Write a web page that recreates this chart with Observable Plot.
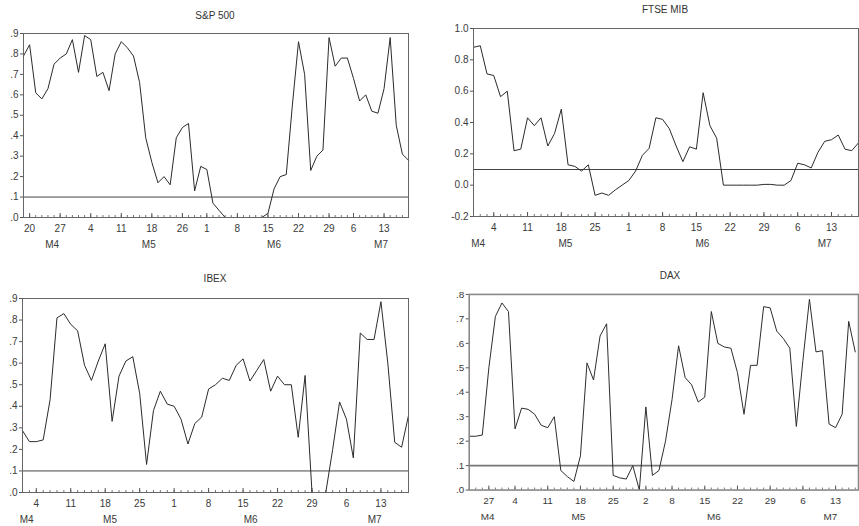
<!DOCTYPE html>
<html>
<head>
<meta charset="utf-8">
<script src="https://cdn.jsdelivr.net/npm/d3@7"></script>
<script src="https://cdn.jsdelivr.net/npm/@observablehq/plot@0.6"></script>
<style>
html, body { margin: 0; padding: 0; background: #fff; overflow: hidden; width: 859px; height: 526px; }
#root { position: relative; width: 859px; height: 526px; font-family: "Liberation Sans", Arial, sans-serif; }
.title { position: absolute; font-size: 10px; color: #333; transform: translate(-50%, -50%); white-space: nowrap; }
.panel { position: absolute; }
</style>
</head>
<body>
<div id="root"></div>
<script>
// ---- data (daily observations, index = trading day) ----
const spValues = [0.79, 0.845, 0.61, 0.58, 0.63, 0.75, 0.78, 0.80, 0.87, 0.71,
  0.89, 0.87, 0.69, 0.71, 0.62, 0.80, 0.86, 0.83, 0.79, 0.66,
  0.39, 0.27, 0.17, 0.20, 0.16, 0.39, 0.44, 0.46, 0.13, 0.25,
  0.235, 0.07, 0.035, 0, 0, 0, 0, 0, 0, 0,
  0.02, 0.14, 0.20, 0.21, 0.55, 0.86, 0.70, 0.23, 0.30, 0.33,
  0.88, 0.74, 0.78, 0.78, 0.68, 0.57, 0.60, 0.52, 0.51, 0.63,
  0.88, 0.45, 0.31, 0.28];
const spDayTicks = [1, 6, 11, 16, 21, 26, 30, 35, 40, 45, 50, 54, 59];
const spDayLabels = ["20", "27", "4", "11", "18", "26", "1", "8", "15", "22", "29", "6", "13"];
const spMonthTicks = [4.7, 20.5, 41, 58.5];

const ftseValues = [0.88, 0.89, 0.71, 0.70, 0.565, 0.60, 0.22, 0.23, 0.43, 0.38,
  0.43, 0.25, 0.33, 0.485, 0.13, 0.12, 0.09, 0.13, -0.065, -0.05,
  -0.065, -0.03, 0.0, 0.03, 0.09, 0.19, 0.235, 0.43, 0.42, 0.36,
  0.25, 0.15, 0.245, 0.23, 0.59, 0.38, 0.30, 0.0, 0.0, 0.0,
  0.0, 0.0, 0.0, 0.005, 0.005, 0.0, 0.0, 0.03, 0.14, 0.13,
  0.11, 0.21, 0.28, 0.29, 0.32, 0.23, 0.22, 0.27];
const ftseDayTicks = [3, 8, 13, 18, 23, 28, 33, 38, 43, 48, 53];
const ftseDayLabels = ["4", "11", "18", "25", "1", "8", "15", "22", "29", "6", "13"];
const ftseMonthTicks = [0.7, 13.6, 33.9, 52];

const ibexValues = [0.287, 0.236, 0.236, 0.244, 0.43, 0.81, 0.83, 0.78, 0.75, 0.59,
  0.52, 0.61, 0.69, 0.33, 0.54, 0.61, 0.63, 0.46, 0.13, 0.38,
  0.47, 0.41, 0.40, 0.34, 0.225, 0.32, 0.35, 0.48, 0.50, 0.53,
  0.52, 0.59, 0.62, 0.517, 0.567, 0.617, 0.47, 0.54, 0.50, 0.50,
  0.256, 0.543, 0, 0, 0, 0.20, 0.42, 0.34, 0.16, 0.74,
  0.71, 0.71, 0.885, 0.60, 0.233, 0.21, 0.357];
const ibexDayTicks = [2, 7, 12, 17, 22, 27, 32, 37, 42, 47, 52];
const ibexDayLabels = ["4", "11", "18", "25", "1", "8", "15", "22", "29", "6", "13"];
const ibexMonthTicks = [0.6, 12.7, 33.1, 51.1];

const daxValues = [0.22, 0.22, 0.225, 0.50, 0.71, 0.765, 0.73, 0.25, 0.335, 0.33,
  0.31, 0.265, 0.255, 0.30, 0.08, 0.055, 0.035, 0.14, 0.52, 0.45,
  0.63, 0.68, 0.06, 0.05, 0.045, 0.10, 0.0, 0.34, 0.06, 0.08,
  0.20, 0.37, 0.59, 0.46, 0.43, 0.36, 0.38, 0.73, 0.60, 0.585,
  0.58, 0.48, 0.31, 0.51, 0.51, 0.75, 0.745, 0.65, 0.62, 0.58,
  0.26, 0.53, 0.78, 0.565, 0.57, 0.27, 0.255, 0.31, 0.69, 0.565];
const daxDayTicks = [3, 7, 12, 17, 22, 27, 31, 36, 41, 46, 51, 56];
const daxDayLabels = ["27", "4", "11", "18", "25", "2", "8", "15", "22", "29", "6", "13"];
const daxMonthTicks = [2.8, 16.7, 37.4, 55.2];

const monthLabels = ["M4", "M5", "M6", "M7"];

const y09Ticks = [0, 0.1, 0.2, 0.3, 0.4, 0.5, 0.6, 0.7, 0.8, 0.9];
const y09Labels = [".0", ".1", ".2", ".3", ".4", ".5", ".6", ".7", ".8", ".9"];
const y08Ticks = [0, 0.1, 0.2, 0.3, 0.4, 0.5, 0.6, 0.7, 0.8];
const y08Labels = [".0", ".1", ".2", ".3", ".4", ".5", ".6", ".7", ".8"];
const ftseYTicks = [-0.2, 0, 0.2, 0.4, 0.6, 0.8, 1.0];
const ftseYLabels = ["-0.2", "0.0", "0.2", "0.4", "0.6", "0.8", "1.0"];

const threshold = 0.1;

// ---- drawing ----
const root = document.getElementById("root");

function labeler(ticks, labels) {
  const m = new Map(ticks.map((t, i) => [t, labels[i]]));
  return d => m.get(d);
}

function panel(o) {
  const {box, frame} = o;
  const marginLeft = frame.x0 - box.left;
  const marginRight = box.left + box.width - frame.x1;
  const marginTop = frame.y0 - box.top;
  const marginBottom = box.top + box.height - frame.y1;
  const innerH = frame.y1 - frame.y0;
  const data = o.values.map((v, i) => ({i, v}));
  const obs = d3.range(o.values.length);

  const chart = Plot.plot({
    width: box.width,
    height: box.height,
    marginLeft, marginRight, marginTop, marginBottom,
    x: {domain: o.xDomain, axis: null},
    y: {domain: o.yDomain, axis: null},
    style: {
      background: "none",
      overflow: "visible",
      fontSize: "10px",
      fontFamily: "'Liberation Sans', Arial, sans-serif",
      color: "#3a3a3a"
    },
    marks: [
      Plot.ruleY([threshold], {stroke: o.ruleColor || "#444", strokeWidth: o.ruleWidth || 1}),
      Plot.ruleX(obs, {x: d => d, insetTop: innerH - 2, stroke: "#777"}),
      Plot.ruleX(o.dayTicks, {x: d => d, insetTop: innerH - 4, stroke: "#555"}),
      Plot.line(data, {x: "i", y: "v", stroke: "#2b2b2b", strokeWidth: 1}),
      Plot.frame({stroke: o.frameColor || "#666", strokeWidth: o.frameWidth || 1}),
      Plot.axisY({ticks: o.yTicks, tickFormat: labeler(o.yTicks, o.yLabels), tickSize: 3, tickPadding: 2, stroke: "#555", label: null}),
      Plot.axisX({ticks: o.dayTicks, tickFormat: labeler(o.dayTicks, o.dayLabels), tickSize: 0, tickPadding: 7, label: null}),
      Plot.axisX({ticks: o.monthTicks, tickFormat: labeler(o.monthTicks, monthLabels), tickSize: 0, tickPadding: 23, label: null})
    ]
  });
  const wrap = document.createElement("div");
  wrap.className = "panel";
  wrap.style.left = box.left + "px";
  wrap.style.top = box.top + "px";
  wrap.appendChild(chart);
  root.appendChild(wrap);

  const t = document.createElement("div");
  t.className = "title";
  t.textContent = o.title;
  t.style.left = o.titleX + "px";
  t.style.top = o.titleY + "px";
  root.appendChild(t);
}

panel({
  title: "S&P 500", titleX: 215, titleY: 15,
  values: spValues, xDomain: [0, spValues.length - 1], yDomain: [0, 0.9],
  yTicks: y09Ticks, yLabels: y09Labels,
  dayTicks: spDayTicks, dayLabels: spDayLabels, monthTicks: spMonthTicks,
  box: {left: 0, top: 20, width: 430, height: 240},
  frame: {x0: 23, x1: 408, y0: 33, y1: 217}
});

panel({
  title: "FTSE MIB", titleX: 665, titleY: 9,
  values: ftseValues, xDomain: [0, ftseValues.length - 1], yDomain: [-0.2, 1.0],
  yTicks: ftseYTicks, yLabels: ftseYLabels,
  dayTicks: ftseDayTicks, dayLabels: ftseDayLabels, monthTicks: ftseMonthTicks,
  box: {left: 430, top: 18, width: 429, height: 242},
  frame: {x0: 473, x1: 858, y0: 28, y1: 216}
});

panel({
  title: "IBEX", titleX: 215, titleY: 278,
  values: ibexValues, xDomain: [0, ibexValues.length - 1], yDomain: [0, 0.9],
  yTicks: y09Ticks, yLabels: y09Labels,
  dayTicks: ibexDayTicks, dayLabels: ibexDayLabels, monthTicks: ibexMonthTicks,
  box: {left: 0, top: 285, width: 430, height: 241},
  frame: {x0: 22, x1: 408, y0: 298, y1: 492}
});

panel({
  title: "DAX", titleX: 670, titleY: 275,
  values: daxValues, xDomain: [0, 59.5], yDomain: [0, 0.8],
  yTicks: y08Ticks, yLabels: y08Labels,
  dayTicks: daxDayTicks, dayLabels: daxDayLabels, monthTicks: daxMonthTicks,
  frameColor: "#888", frameWidth: 1.6, ruleColor: "#777", ruleWidth: 1.6,
  box: {left: 430, top: 283, width: 432, height: 243},
  frame: {x0: 469, x1: 861, y0: 294, y1: 491}
});
</script>
</body>
</html>
